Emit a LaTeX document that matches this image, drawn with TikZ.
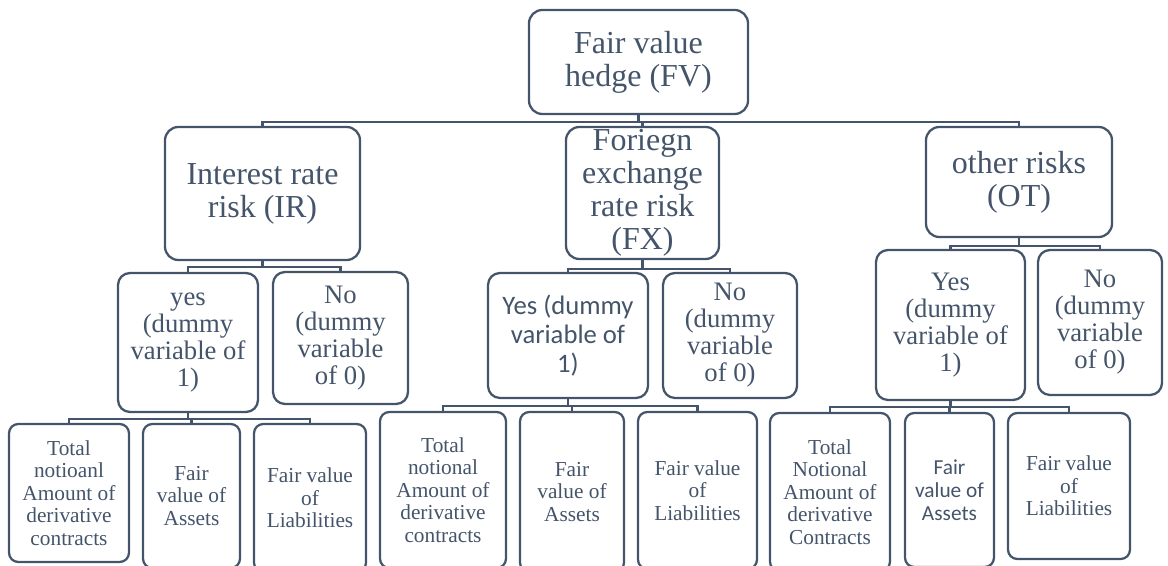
\documentclass[tikz,border=0pt]{standalone}
\usepackage{fontspec}
\setmainfont{Liberation Serif}
\newfontfamily\calibri{Carlito}
\definecolor{slate}{HTML}{44546A}
\begin{document}
\begin{tikzpicture}[x=0.75pt,y=-0.75pt,
  box/.style 2 args={draw=slate,line width=1.7pt,rounded corners=10pt,text=slate,align=center,inner sep=0pt,minimum width=#1*0.75pt,minimum height=#2*0.75pt},
  link/.style={draw=slate,line width=1.7pt},
  big/.style={font=\fontsize{24}{24.75}\selectfont},
  mid/.style={font=\fontsize{20}{20.25}\selectfont,rounded corners=9pt},
  midsans/.style={font=\calibri\fontsize{20}{21.75}\selectfont,rounded corners=9pt},
  small/.style={font=\fontsize{16}{16.8}\selectfont,rounded corners=7pt},
  smallsans/.style={font=\calibri\fontsize{16}{17.25}\selectfont,rounded corners=7pt}]
\useasboundingbox (0,0) rectangle (1168,566);
\clip (0,0) rectangle (1168,566);
% top
\node[box={219}{104},big] (fv) at (638.5,62) {Fair value\\hedge (FV)};
% risk types
\node[box={195}{133},big] (ir) at (262.5,193.5) {Interest rate\\risk (IR)};
\node[box={153}{132},big] (fx) at (642.5,193) {Foriegn\\exchange\\rate risk\\(FX)};
\node[box={186}{110},big] (ot) at (1019,182) {other risks\\(OT)};
% yes / no
\node[box={140}{139},mid] (yesir) at (188,342.5) {yes\\(dummy\\variable of\\1)};
\node[box={135}{132},mid] (noir) at (340.5,338) {No\\(dummy\\variable\\of 0)};
\node[box={160}{125},midsans] (yesfx) at (568,335.5) {Yes (dummy\\variable of\\1)};
\node[box={134}{125},mid] (nofx) at (730,335.5) {No\\(dummy\\variable\\of 0)};
\node[box={149}{150},mid] (yesot) at (950.5,325) {Yes\\(dummy\\variable of\\1)};
\node[box={124}{145},mid] (noot) at (1100,322.5) {No\\(dummy\\variable\\of 0)};
% measures
\node[box={120}{138},small] (totir) at (69,493) {Total\\notioanl\\Amount of\\derivative\\contracts};
\node[box={97}{144},small] (astir) at (191.5,496) {Fair\\value of\\Assets};
\node[box={112}{148},small] (libir) at (310,498) {Fair value\\of\\Liabilities};
\node[box={126}{156},small] (totfx) at (443,490) {Total\\notional\\Amount of\\derivative\\contracts};
\node[box={104}{160},small] (astfx) at (572,492) {Fair\\value of\\Assets};
\node[box={119}{157},small] (libfx) at (697.5,490.5) {Fair value\\of\\Liabilities};
\node[box={120}{158},small] (totot) at (830,492) {Total\\Notional\\Amount of\\derivative\\Contracts};
\node[box={89}{154},smallsans] (astot) at (949.5,490) {Fair\\value of\\Assets};
\node[box={122}{146},small] (libot) at (1069,486) {Fair value\\of\\Liabilities};
% connectors
\foreach \c in {ir,fx,ot} \draw[link] (fv.south) -- ++(0,7) -| (\c.north);
\foreach \c in {yesir,noir} \draw[link] (ir.south) -- ++(0,6) -| (\c.north);
\foreach \c in {yesfx,nofx} \draw[link] (fx.south) -- ++(0,9) -| (\c.north);
\foreach \c in {yesot,noot} \draw[link] (ot.south) -- ++(0,8) -| (\c.north);
\foreach \c in {totir,astir,libir} \draw[link] (yesir.south) -- ++(0,6) -| (\c.north);
\foreach \c in {totfx,astfx,libfx} \draw[link] (yesfx.south) -- ++(0,7) -| (\c.north);
\foreach \c in {totot,astot,libot} \draw[link] (yesot.south) -- ++(0,6) -| (\c.north);
\end{tikzpicture}
\end{document}
